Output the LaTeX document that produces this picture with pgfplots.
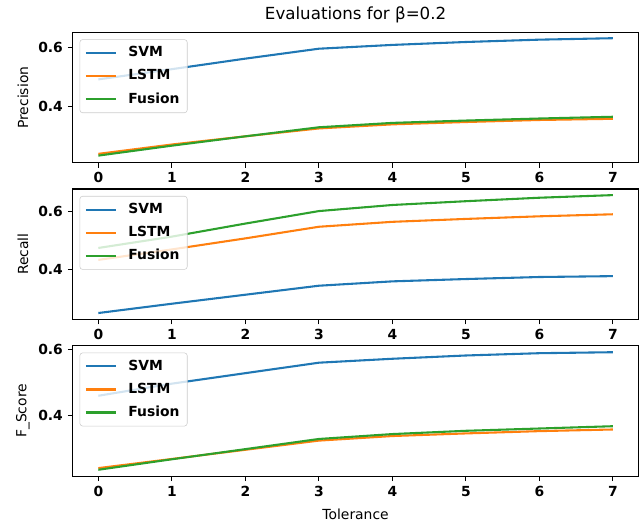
\documentclass[border=0pt]{standalone}
\usepackage{fontspec}
\setmainfont{DejaVu Sans}
\usepackage{pgfplots}
\pgfplotsset{compat=1.18}
\definecolor{c0}{HTML}{1F77B4}
\definecolor{c1}{HTML}{FF7F0E}
\definecolor{c2}{HTML}{2CA02C}
\pgfplotsset{
 mystyle/.style={
  width=407.5pt, height=94pt, scale only axis,
  anchor=north west,
  xmin=-0.35, xmax=7.35,
  xtick={0,1,2,3,4,5,6,7}, xticklabels={0,1,2,3,4,5,6,7},
  ytick={0.4,0.6}, yticklabels={0.4,0.6},
  tick label style={font=\bfseries},
  tick align=outside, major tick length=3.5pt,
  major tick style={line width=0.8pt, black},
  axis line style={line width=0.8pt},
  tick pos=left,
  minor tick num=0,
  label style={font=\fontsize{10}{12}\selectfont},
  ylabel style={at={(axis description cs:-0.088,0.5)}, anchor=center},
  legend cell align=left,
  legend image code/.code={\draw[##1, line width=1.5pt] (0pt,0pt) -- (21.6pt,0pt);},
  legend style={at={(axis description cs:0,1)}, anchor=north west,
    xshift=5pt, yshift=-5pt, draw=black!20, rounded corners=2pt,
    fill=white, fill opacity=0.8, text opacity=1, font=\bfseries,
    inner xsep=3.6pt, inner ysep=3pt, row sep=3.1pt, column sep=6.2pt,
    nodes={inner sep=2pt, text height=7.5pt, text depth=2pt}},
  every axis plot/.append style={line width=1.5pt},
 }
}
\begin{document}
\begin{tikzpicture}
\useasboundingbox (0,0) rectangle (463pt,380.9pt);
\begin{axis}[mystyle, at={(52.3pt,357.6pt)}, ylabel={Precision},
  ymin=0.206, ymax=0.653,
  title={Evaluations for β=0.2},
  title style={at={(axis description cs:0.5,1)}, anchor=base, yshift=3pt, font=\fontsize{12}{14}\selectfont}]
\addplot[c0] table {
x y
0 0.492
1 0.527
2 0.563
3 0.597
4 0.610
5 0.620
6 0.628
7 0.633
};
\addlegendentry{SVM}
\addplot[c1] table {
x y
0 0.237
1 0.269
2 0.297
3 0.324
4 0.338
5 0.346
6 0.353
7 0.357
};
\addlegendentry{LSTM}
\addplot[c2] table {
x y
0 0.231
1 0.265
2 0.297
3 0.328
4 0.343
5 0.351
6 0.358
7 0.364
};
\addlegendentry{Fusion}
\end{axis}
\begin{axis}[mystyle, at={(52.3pt,244.8pt)}, ylabel={Recall},
  ymin=0.2285, ymax=0.678]
\addplot[c0] table {
x y
0 0.251
1 0.283
2 0.314
3 0.345
4 0.360
5 0.368
6 0.375
7 0.378
};
\addlegendentry{SVM}
\addplot[c1] table {
x y
0 0.434
1 0.470
2 0.508
3 0.548
4 0.565
5 0.575
6 0.584
7 0.591
};
\addlegendentry{LSTM}
\addplot[c2] table {
x y
0 0.475
1 0.514
2 0.559
3 0.602
4 0.623
5 0.636
6 0.648
7 0.657
};
\addlegendentry{Fusion}
\end{axis}
\begin{axis}[mystyle, at={(52.3pt,132pt)}, ylabel={F\_Score},
  ymin=0.2143, ymax=0.613,
  xlabel={Tolerance},
  xlabel style={at={(axis description cs:0.5,0)}, anchor=center, yshift=-27.6pt}]
\addplot[c0] table {
x y
0 0.460
1 0.497
2 0.529
3 0.561
4 0.573
5 0.583
6 0.590
7 0.593
};
\addlegendentry{SVM}
\addplot[c1] table {
x y
0 0.239
1 0.267
2 0.295
3 0.323
4 0.337
5 0.345
6 0.352
7 0.357
};
\addlegendentry{LSTM}
\addplot[c2] table {
x y
0 0.234
1 0.266
2 0.297
3 0.328
4 0.343
5 0.353
6 0.360
7 0.367
};
\addlegendentry{Fusion}
\end{axis}
\end{tikzpicture}
\end{document}
